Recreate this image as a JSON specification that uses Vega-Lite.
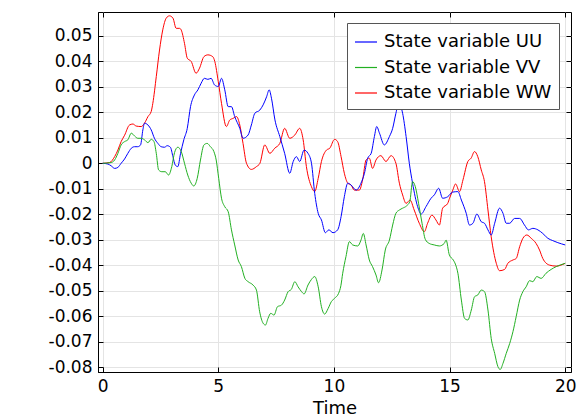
{
  "$schema": "https://vega.github.io/schema/vega-lite/v6.json",
  "width": 473,
  "height": 360,
  "autosize": {"type": "none"},
  "padding": {"left": 98, "top": 12, "right": 14, "bottom": 48},
  "background": "#ffffff",
  "config": {
    "font": "DejaVu Sans",
    "view": {"stroke": "#000000", "strokeWidth": 1},
    "axis": {
      "labelFont": "DejaVu Sans", "labelFontSize": 17, "labelColor": "#000000",
      "titleFont": "DejaVu Sans", "titleFontSize": 18, "titleFontWeight": "normal", "titleColor": "#000000",
      "domainColor": "#000000", "tickColor": "#000000", "tickSize": -5, "labelPadding": 11,
      "gridColor": "#e4e4e4", "gridWidth": 1
    },
    "legend": {
      "labelFont": "DejaVu Sans", "labelFontSize": 18, "labelColor": "#000000", "labelLimit": 0
    }
  },
  "data": {"values": [
    {"s":"WW","t":0,"v":0},{"s":"WW","t":0.3,"v":0.0003},{"s":"WW","t":0.52,"v":0.0026},{"s":"WW","t":0.66,"v":0.0052},{"s":"WW","t":0.8,"v":0.0085},{"s":"WW","t":0.95,"v":0.011},{"s":"WW","t":1.16,"v":0.015},{"s":"WW","t":1.31,"v":0.0154},{"s":"WW","t":1.45,"v":0.0146},{"s":"WW","t":1.67,"v":0.0144},{"s":"WW","t":1.81,"v":0.0157},{"s":"WW","t":1.96,"v":0.0183},{"s":"WW","t":2.1,"v":0.0203},{"s":"WW","t":2.17,"v":0.0235},{"s":"WW","t":2.32,"v":0.034},{"s":"WW","t":2.46,"v":0.0444},{"s":"WW","t":2.6,"v":0.0523},{"s":"WW","t":2.75,"v":0.0569},{"s":"WW","t":2.89,"v":0.0578},{"s":"WW","t":3.04,"v":0.0569},{"s":"WW","t":3.18,"v":0.0529},{"s":"WW","t":3.33,"v":0.0529},{"s":"WW","t":3.4,"v":0.0522},{"s":"WW","t":3.54,"v":0.047},{"s":"WW","t":3.66,"v":0.0412},{"s":"WW","t":3.83,"v":0.0399},{"s":"WW","t":4.04,"v":0.0353},{"s":"WW","t":4.19,"v":0.0373},{"s":"WW","t":4.38,"v":0.0418},{"s":"WW","t":4.55,"v":0.0425},{"s":"WW","t":4.76,"v":0.0418},{"s":"WW","t":4.85,"v":0.0399},{"s":"WW","t":5.0,"v":0.032},{"s":"WW","t":5.14,"v":0.0235},{"s":"WW","t":5.35,"v":0.0144},{"s":"WW","t":5.5,"v":0.017},{"s":"WW","t":5.64,"v":0.0176},{"s":"WW","t":5.79,"v":0.0183},{"s":"WW","t":5.93,"v":0.015},{"s":"WW","t":6.07,"v":0.0078},{"s":"WW","t":6.22,"v":0},{"s":"WW","t":6.43,"v":-0.0024},{"s":"WW","t":6.65,"v":-0.0013},{"s":"WW","t":6.8,"v":0},{"s":"WW","t":7.01,"v":0.0072},{"s":"WW","t":7.23,"v":0.0039},{"s":"WW","t":7.44,"v":0.0059},{"s":"WW","t":7.66,"v":0.0078},{"s":"WW","t":7.87,"v":0.0137},{"s":"WW","t":8.09,"v":0.0098},{"s":"WW","t":8.31,"v":0.0111},{"s":"WW","t":8.52,"v":0.0137},{"s":"WW","t":8.67,"v":0.0092},{"s":"WW","t":8.81,"v":-0.0013},{"s":"WW","t":9.03,"v":-0.0092},{"s":"WW","t":9.17,"v":-0.0111},{"s":"WW","t":9.32,"v":-0.0059},{"s":"WW","t":9.46,"v":0.0007},{"s":"WW","t":9.68,"v":0.0052},{"s":"WW","t":9.82,"v":0.0059},{"s":"WW","t":10.03,"v":0.0094},{"s":"WW","t":10.16,"v":0.0085},{"s":"WW","t":10.31,"v":0.0026},{"s":"WW","t":10.45,"v":-0.0039},{"s":"WW","t":10.6,"v":-0.0078},{"s":"WW","t":10.74,"v":-0.0085},{"s":"WW","t":10.88,"v":-0.0105},{"s":"WW","t":11.1,"v":-0.0105},{"s":"WW","t":11.24,"v":-0.0065},{"s":"WW","t":11.39,"v":0.0013},{"s":"WW","t":11.53,"v":0.002},{"s":"WW","t":11.67,"v":-0.002},{"s":"WW","t":11.82,"v":0.0013},{"s":"WW","t":12.03,"v":0.003},{"s":"WW","t":12.25,"v":0.0007},{"s":"WW","t":12.47,"v":0.003},{"s":"WW","t":12.68,"v":0},{"s":"WW","t":12.83,"v":-0.0078},{"s":"WW","t":12.97,"v":-0.0124},{"s":"WW","t":13.12,"v":-0.0157},{"s":"WW","t":13.29,"v":-0.0144},{"s":"WW","t":13.47,"v":-0.0183},{"s":"WW","t":13.69,"v":-0.0235},{"s":"WW","t":13.91,"v":-0.0268},{"s":"WW","t":14.05,"v":-0.0235},{"s":"WW","t":14.24,"v":-0.0203},{"s":"WW","t":14.41,"v":-0.0222},{"s":"WW","t":14.56,"v":-0.0242},{"s":"WW","t":14.7,"v":-0.0176},{"s":"WW","t":14.92,"v":-0.0157},{"s":"WW","t":15.0,"v":-0.0137},{"s":"WW","t":15.14,"v":-0.0105},{"s":"WW","t":15.26,"v":-0.0081},{"s":"WW","t":15.43,"v":-0.0111},{"s":"WW","t":15.58,"v":-0.0065},{"s":"WW","t":15.79,"v":0.0007},{"s":"WW","t":15.93,"v":0.002},{"s":"WW","t":16.08,"v":0.0046},{"s":"WW","t":16.22,"v":0.0026},{"s":"WW","t":16.37,"v":-0.0026},{"s":"WW","t":16.51,"v":-0.0072},{"s":"WW","t":16.66,"v":-0.0183},{"s":"WW","t":16.8,"v":-0.0288},{"s":"WW","t":17.02,"v":-0.0392},{"s":"WW","t":17.16,"v":-0.0421},{"s":"WW","t":17.38,"v":-0.0416},{"s":"WW","t":17.52,"v":-0.0392},{"s":"WW","t":17.74,"v":-0.0379},{"s":"WW","t":17.88,"v":-0.0373},{"s":"WW","t":18.03,"v":-0.0327},{"s":"WW","t":18.17,"v":-0.0294},{"s":"WW","t":18.34,"v":-0.0281},{"s":"WW","t":18.53,"v":-0.0294},{"s":"WW","t":18.74,"v":-0.0314},{"s":"WW","t":18.89,"v":-0.034},{"s":"WW","t":19.03,"v":-0.0373},{"s":"WW","t":19.32,"v":-0.0399},{"s":"WW","t":19.61,"v":-0.0403},{"s":"WW","t":20.0,"v":-0.0392},
    {"s":"UU","t":0,"v":0},{"s":"UU","t":0.23,"v":-0.0003},{"s":"UU","t":0.37,"v":-0.001},{"s":"UU","t":0.52,"v":-0.002},{"s":"UU","t":0.66,"v":-0.0016},{"s":"UU","t":0.8,"v":0},{"s":"UU","t":0.95,"v":0.0017},{"s":"UU","t":1.09,"v":0.0039},{"s":"UU","t":1.24,"v":0.0059},{"s":"UU","t":1.38,"v":0.0065},{"s":"UU","t":1.52,"v":0.0065},{"s":"UU","t":1.64,"v":0.0072},{"s":"UU","t":1.74,"v":0.0131},{"s":"UU","t":1.81,"v":0.0157},{"s":"UU","t":1.96,"v":0.015},{"s":"UU","t":2.1,"v":0.0131},{"s":"UU","t":2.24,"v":0.0098},{"s":"UU","t":2.39,"v":0.0078},{"s":"UU","t":2.53,"v":0.0065},{"s":"UU","t":2.68,"v":0.0063},{"s":"UU","t":2.79,"v":0.0069},{"s":"UU","t":2.93,"v":0.0063},{"s":"UU","t":3.04,"v":0.0026},{"s":"UU","t":3.14,"v":-0.0007},{"s":"UU","t":3.25,"v":-0.0013},{"s":"UU","t":3.37,"v":0.0039},{"s":"UU","t":3.51,"v":0.0092},{"s":"UU","t":3.66,"v":0.0137},{"s":"UU","t":3.8,"v":0.0222},{"s":"UU","t":3.97,"v":0.0268},{"s":"UU","t":4.12,"v":0.0288},{"s":"UU","t":4.26,"v":0.0314},{"s":"UU","t":4.4,"v":0.0333},{"s":"UU","t":4.55,"v":0.0329},{"s":"UU","t":4.69,"v":0.0333},{"s":"UU","t":4.84,"v":0.0307},{"s":"UU","t":5.0,"v":0.0301},{"s":"UU","t":5.14,"v":0.0333},{"s":"UU","t":5.28,"v":0.0288},{"s":"UU","t":5.43,"v":0.0222},{"s":"UU","t":5.57,"v":0.0222},{"s":"UU","t":5.71,"v":0.0183},{"s":"UU","t":5.93,"v":0.0137},{"s":"UU","t":6.07,"v":0.0098},{"s":"UU","t":6.29,"v":0.0111},{"s":"UU","t":6.43,"v":0.015},{"s":"UU","t":6.58,"v":0.0196},{"s":"UU","t":6.8,"v":0.0209},{"s":"UU","t":6.94,"v":0.0229},{"s":"UU","t":7.09,"v":0.0261},{"s":"UU","t":7.2,"v":0.0288},{"s":"UU","t":7.3,"v":0.0255},{"s":"UU","t":7.45,"v":0.017},{"s":"UU","t":7.66,"v":0.0105},{"s":"UU","t":7.87,"v":0.0039},{"s":"UU","t":8.09,"v":-0.0039},{"s":"UU","t":8.24,"v":0.0007},{"s":"UU","t":8.38,"v":0.0026},{"s":"UU","t":8.52,"v":0.0007},{"s":"UU","t":8.71,"v":0.0052},{"s":"UU","t":8.88,"v":0.0039},{"s":"UU","t":9.03,"v":0},{"s":"UU","t":9.17,"v":-0.0118},{"s":"UU","t":9.32,"v":-0.0196},{"s":"UU","t":9.46,"v":-0.0222},{"s":"UU","t":9.63,"v":-0.0272},{"s":"UU","t":9.78,"v":-0.0261},{"s":"UU","t":9.96,"v":-0.0272},{"s":"UU","t":10.16,"v":-0.0261},{"s":"UU","t":10.31,"v":-0.0209},{"s":"UU","t":10.45,"v":-0.0131},{"s":"UU","t":10.6,"v":-0.0078},{"s":"UU","t":10.74,"v":-0.0085},{"s":"UU","t":10.96,"v":-0.0105},{"s":"UU","t":11.17,"v":-0.0078},{"s":"UU","t":11.32,"v":-0.0039},{"s":"UU","t":11.46,"v":0.002},{"s":"UU","t":11.61,"v":0.0039},{"s":"UU","t":11.75,"v":0.0105},{"s":"UU","t":11.85,"v":0.0144},{"s":"UU","t":11.97,"v":0.0118},{"s":"UU","t":12.18,"v":0.0072},{"s":"UU","t":12.4,"v":0.0105},{"s":"UU","t":12.54,"v":0.0137},{"s":"UU","t":12.68,"v":0.0196},{"s":"UU","t":12.8,"v":0.0235},{"s":"UU","t":12.97,"v":0.0196},{"s":"UU","t":13.12,"v":0.0105},{"s":"UU","t":13.26,"v":0},{"s":"UU","t":13.4,"v":-0.0078},{"s":"UU","t":13.62,"v":-0.017},{"s":"UU","t":13.77,"v":-0.0199},{"s":"UU","t":13.98,"v":-0.017},{"s":"UU","t":14.2,"v":-0.0137},{"s":"UU","t":14.34,"v":-0.0124},{"s":"UU","t":14.53,"v":-0.0098},{"s":"UU","t":14.7,"v":-0.0137},{"s":"UU","t":14.92,"v":-0.0131},{"s":"UU","t":15.13,"v":-0.0113},{"s":"UU","t":15.36,"v":-0.0111},{"s":"UU","t":15.51,"v":-0.0144},{"s":"UU","t":15.72,"v":-0.0196},{"s":"UU","t":15.86,"v":-0.0242},{"s":"UU","t":16.01,"v":-0.0235},{"s":"UU","t":16.18,"v":-0.0199},{"s":"UU","t":16.37,"v":-0.0229},{"s":"UU","t":16.51,"v":-0.0235},{"s":"UU","t":16.66,"v":-0.0261},{"s":"UU","t":16.8,"v":-0.0281},{"s":"UU","t":16.95,"v":-0.0235},{"s":"UU","t":17.16,"v":-0.0176},{"s":"UU","t":17.31,"v":-0.0196},{"s":"UU","t":17.45,"v":-0.0235},{"s":"UU","t":17.6,"v":-0.0235},{"s":"UU","t":17.81,"v":-0.0216},{"s":"UU","t":18.03,"v":-0.0216},{"s":"UU","t":18.24,"v":-0.0242},{"s":"UU","t":18.41,"v":-0.0261},{"s":"UU","t":18.6,"v":-0.0255},{"s":"UU","t":18.82,"v":-0.0261},{"s":"UU","t":19.03,"v":-0.0275},{"s":"UU","t":19.25,"v":-0.0294},{"s":"UU","t":19.46,"v":-0.0303},{"s":"UU","t":19.68,"v":-0.0311},{"s":"UU","t":20.0,"v":-0.032},
    {"s":"VV","t":0,"v":0},{"s":"VV","t":0.37,"v":0.0003},{"s":"VV","t":0.52,"v":0.0013},{"s":"VV","t":0.66,"v":0.0039},{"s":"VV","t":0.8,"v":0.0072},{"s":"VV","t":0.95,"v":0.0085},{"s":"VV","t":1.09,"v":0.0092},{"s":"VV","t":1.24,"v":0.0118},{"s":"VV","t":1.38,"v":0.0107},{"s":"VV","t":1.52,"v":0.0098},{"s":"VV","t":1.67,"v":0.0098},{"s":"VV","t":1.81,"v":0.0092},{"s":"VV","t":1.96,"v":0.0081},{"s":"VV","t":2.1,"v":0.0094},{"s":"VV","t":2.22,"v":0.0085},{"s":"VV","t":2.32,"v":0.0039},{"s":"VV","t":2.42,"v":-0.0026},{"s":"VV","t":2.56,"v":-0.0033},{"s":"VV","t":2.71,"v":-0.0033},{"s":"VV","t":2.85,"v":-0.0046},{"s":"VV","t":2.99,"v":-0.0013},{"s":"VV","t":3.11,"v":0.0042},{"s":"VV","t":3.25,"v":0.0063},{"s":"VV","t":3.4,"v":0.0046},{"s":"VV","t":3.54,"v":0},{"s":"VV","t":3.68,"v":-0.0046},{"s":"VV","t":3.83,"v":-0.0078},{"s":"VV","t":3.94,"v":-0.0089},{"s":"VV","t":4.09,"v":-0.0059},{"s":"VV","t":4.23,"v":0.0013},{"s":"VV","t":4.38,"v":0.0072},{"s":"VV","t":4.52,"v":0.0078},{"s":"VV","t":4.66,"v":0.0065},{"s":"VV","t":4.81,"v":0.0046},{"s":"VV","t":4.91,"v":0.0013},{"s":"VV","t":5.02,"v":-0.006},{"s":"VV","t":5.14,"v":-0.0137},{"s":"VV","t":5.28,"v":-0.017},{"s":"VV","t":5.43,"v":-0.019},{"s":"VV","t":5.57,"v":-0.0261},{"s":"VV","t":5.71,"v":-0.032},{"s":"VV","t":5.86,"v":-0.0379},{"s":"VV","t":6.0,"v":-0.0405},{"s":"VV","t":6.15,"v":-0.0451},{"s":"VV","t":6.29,"v":-0.0464},{"s":"VV","t":6.5,"v":-0.0477},{"s":"VV","t":6.65,"v":-0.0497},{"s":"VV","t":6.79,"v":-0.0582},{"s":"VV","t":6.94,"v":-0.0627},{"s":"VV","t":7.04,"v":-0.0634},{"s":"VV","t":7.15,"v":-0.0608},{"s":"VV","t":7.27,"v":-0.0588},{"s":"VV","t":7.41,"v":-0.0595},{"s":"VV","t":7.56,"v":-0.0562},{"s":"VV","t":7.73,"v":-0.0556},{"s":"VV","t":7.87,"v":-0.0536},{"s":"VV","t":8.02,"v":-0.0503},{"s":"VV","t":8.16,"v":-0.0494},{"s":"VV","t":8.31,"v":-0.0464},{"s":"VV","t":8.45,"v":-0.0484},{"s":"VV","t":8.6,"v":-0.0503},{"s":"VV","t":8.71,"v":-0.0512},{"s":"VV","t":8.88,"v":-0.0477},{"s":"VV","t":9.03,"v":-0.0455},{"s":"VV","t":9.17,"v":-0.0444},{"s":"VV","t":9.32,"v":-0.0484},{"s":"VV","t":9.46,"v":-0.0562},{"s":"VV","t":9.6,"v":-0.0591},{"s":"VV","t":9.75,"v":-0.0569},{"s":"VV","t":9.89,"v":-0.0542},{"s":"VV","t":10.03,"v":-0.0529},{"s":"VV","t":10.2,"v":-0.051},{"s":"VV","t":10.3,"v":-0.048},{"s":"VV","t":10.38,"v":-0.0431},{"s":"VV","t":10.52,"v":-0.0366},{"s":"VV","t":10.67,"v":-0.0307},{"s":"VV","t":10.81,"v":-0.032},{"s":"VV","t":11.03,"v":-0.0324},{"s":"VV","t":11.17,"v":-0.0301},{"s":"VV","t":11.27,"v":-0.0275},{"s":"VV","t":11.39,"v":-0.032},{"s":"VV","t":11.53,"v":-0.0379},{"s":"VV","t":11.67,"v":-0.0405},{"s":"VV","t":11.82,"v":-0.0438},{"s":"VV","t":11.93,"v":-0.0468},{"s":"VV","t":12.08,"v":-0.0418},{"s":"VV","t":12.22,"v":-0.034},{"s":"VV","t":12.4,"v":-0.0301},{"s":"VV","t":12.54,"v":-0.0242},{"s":"VV","t":12.68,"v":-0.0196},{"s":"VV","t":12.83,"v":-0.0183},{"s":"VV","t":12.97,"v":-0.0176},{"s":"VV","t":13.14,"v":-0.0167},{"s":"VV","t":13.28,"v":-0.015},{"s":"VV","t":13.4,"v":-0.0072},{"s":"VV","t":13.52,"v":-0.0092},{"s":"VV","t":13.66,"v":-0.0157},{"s":"VV","t":13.81,"v":-0.0235},{"s":"VV","t":13.95,"v":-0.0298},{"s":"VV","t":14.12,"v":-0.0314},{"s":"VV","t":14.34,"v":-0.032},{"s":"VV","t":14.56,"v":-0.0324},{"s":"VV","t":14.77,"v":-0.0314},{"s":"VV","t":14.85,"v":-0.0301},{"s":"VV","t":14.99,"v":-0.0359},{"s":"VV","t":15.16,"v":-0.0379},{"s":"VV","t":15.25,"v":-0.0395},{"s":"VV","t":15.36,"v":-0.0431},{"s":"VV","t":15.51,"v":-0.0536},{"s":"VV","t":15.65,"v":-0.0608},{"s":"VV","t":15.79,"v":-0.0614},{"s":"VV","t":15.94,"v":-0.0575},{"s":"VV","t":16.08,"v":-0.0523},{"s":"VV","t":16.22,"v":-0.0516},{"s":"VV","t":16.37,"v":-0.0497},{"s":"VV","t":16.51,"v":-0.0503},{"s":"VV","t":16.66,"v":-0.0575},{"s":"VV","t":16.8,"v":-0.0686},{"s":"VV","t":16.95,"v":-0.0745},{"s":"VV","t":17.09,"v":-0.0797},{"s":"VV","t":17.19,"v":-0.0808},{"s":"VV","t":17.31,"v":-0.0784},{"s":"VV","t":17.45,"v":-0.0745},{"s":"VV","t":17.6,"v":-0.0706},{"s":"VV","t":17.74,"v":-0.066},{"s":"VV","t":17.88,"v":-0.0601},{"s":"VV","t":18.03,"v":-0.0536},{"s":"VV","t":18.17,"v":-0.0503},{"s":"VV","t":18.31,"v":-0.0484},{"s":"VV","t":18.46,"v":-0.046},{"s":"VV","t":18.6,"v":-0.0464},{"s":"VV","t":18.77,"v":-0.0444},{"s":"VV","t":18.96,"v":-0.0451},{"s":"VV","t":19.17,"v":-0.0431},{"s":"VV","t":19.39,"v":-0.0416},{"s":"VV","t":19.61,"v":-0.0405},{"s":"VV","t":20.0,"v":-0.0392}
  ]},
  "layer": [
    {
      "mark": {"type": "line", "strokeWidth": 1, "interpolate": "monotone"},
      "encoding": {
        "x": {"field": "t", "type": "quantitative",
              "scale": {"domain": [-0.2, 20.25], "nice": false, "zero": false},
              "axis": {"orient": "bottom", "title": "Time", "values": [0, 5, 10, 15, 20], "titlePadding": 5, "grid": true}},
        "y": {"field": "v", "type": "quantitative",
              "scale": {"domain": [-0.0818, 0.0593], "nice": false, "zero": false},
              "axis": {"orient": "left", "title": null, "grid": true,
                       "values": [-0.08, -0.07, -0.06, -0.05, -0.04, -0.03, -0.02, -0.01, 0, 0.01, 0.02, 0.03, 0.04, 0.05],
                       "labelExpr": "replace(format(datum.value, '.2~f'), '\u2212', '-')"}},
        "color": {"field": "s", "type": "nominal",
                  "scale": {"domain": ["UU", "VV", "WW"], "range": ["#0000ff", "#22b022", "#ff0000"]},
                  "legend": {"title": null, "orient": "none", "legendX": 249, "legendY": 11,
                             "symbolType": "stroke", "symbolSize": 484, "symbolStrokeWidth": 1.2,
                             "labelExpr": "'State variable ' + datum.label", "labelLimit": 0,
                             "padding": 7, "rowPadding": 4.5, "labelOffset": 6,
                             "strokeColor": "#555555", "fillColor": "#ffffff", "cornerRadius": 0}}
      }
    },
    {
      "mark": {"type": "point", "opacity": 0},
      "encoding": {
        "x": {"field": "t", "type": "quantitative",
              "axis": {"orient": "top", "title": null, "labels": false, "domain": false, "grid": false, "values": [0, 5, 10, 15, 20]}},
        "y": {"field": "v", "type": "quantitative",
              "axis": {"orient": "right", "title": null, "labels": false, "domain": false, "grid": false,
                       "values": [-0.08, -0.07, -0.06, -0.05, -0.04, -0.03, -0.02, -0.01, 0, 0.01, 0.02, 0.03, 0.04, 0.05]}}
      }
    }
  ],
  "resolve": {"axis": {"x": "independent", "y": "independent"}}
}
